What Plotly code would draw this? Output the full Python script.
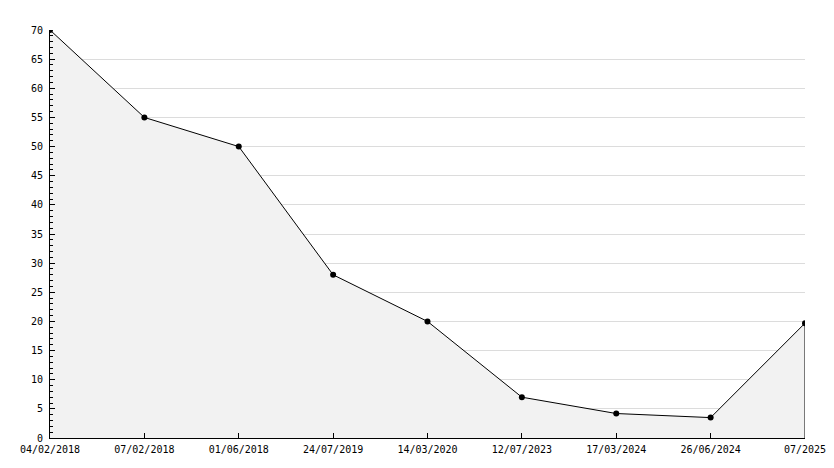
import plotly.graph_objects as go

dates = ["04/02/2018", "07/02/2018", "01/06/2018", "24/07/2019", "14/03/2020",
         "12/07/2023", "17/03/2024", "26/06/2024", "07/2025"]
values = [70, 55, 50, 28, 20, 7, 4.2, 3.5, 19.7]
y_ticks = list(range(0, 75, 5))

idx = list(range(len(dates)))

fig = go.Figure()
fig.add_trace(go.Scatter(
    x=idx, y=values, mode="lines+markers", fill="tozeroy",
    fillcolor="#f2f2f2",
    line=dict(color="black", width=1),
    marker=dict(symbol="circle", size=6, color="black"),
    hoverinfo="skip", showlegend=False,
))
# closing edge of the filled area at the last point
fig.add_trace(go.Scatter(
    x=[idx[-1], idx[-1]], y=[0, values[-1]], mode="lines",
    line=dict(color="black", width=1), hoverinfo="skip", showlegend=False,
))

fig.update_layout(
    width=826, height=452,
    margin=dict(l=42, r=29, t=22, b=22),
    paper_bgcolor="white", plot_bgcolor="white",
    font=dict(family="DejaVu Sans Mono", size=10, color="black"),
    xaxis=dict(
        range=[0, len(dates) - 1], tickmode="array", tickvals=idx, ticktext=dates,
        showgrid=False, zeroline=False, showline=True, linecolor="black", linewidth=1,
        ticks="inside", ticklen=5, tickcolor="black", ticklabelstandoff=2,
        automargin=False, ticklabeloverflow="allow",
    ),
    yaxis=dict(
        range=[0, 70], tickmode="array", tickvals=y_ticks,
        showgrid=True, gridcolor="#dcdcdc", gridwidth=1, zeroline=False,
        showline=True, linecolor="black", linewidth=1,
        ticks="inside", ticklen=5, tickcolor="black", ticklabelstandoff=4,
        minor=dict(dtick=1, ticks="inside", ticklen=3, tickcolor="black", showgrid=False),
        automargin=False,
    ),
)

fig.write_html("out.html")
